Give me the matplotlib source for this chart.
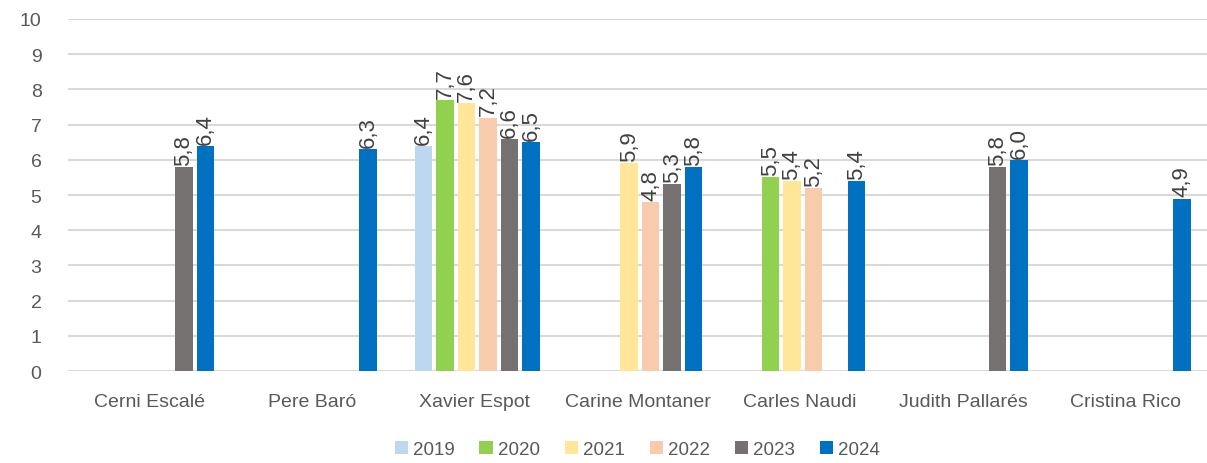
import numpy as np
import matplotlib.pyplot as plt

plt.rcParams['font.family'] = ['Liberation Sans', 'DejaVu Sans']

categories = ['Cerni Escalé', 'Pere Baró', 'Xavier Espot', 'Carine Montaner',
              'Carles Naudi', 'Judith Pallarés', 'Cristina Rico']
years = ['2019', '2020', '2021', '2022', '2023', '2024']
v2019 = [None, None, 6.4, None, None, None, None]
v2020 = [None, None, 7.7, None, 5.5, None, None]
v2021 = [None, None, 7.6, 5.9, 5.4, None, None]
v2022 = [None, None, 7.2, 4.8, 5.2, None, None]
v2023 = [5.8, None, 6.6, 5.3, None, 5.8, None]
v2024 = [6.4, 6.3, 6.5, 5.8, 5.4, 6.0, 4.9]
series = [v2019, v2020, v2021, v2022, v2023, v2024]
colors = ['#BDD7EE', '#92D050', '#FFE699', '#F8CBAD', '#767171', '#0070C0']

fig = plt.figure(figsize=(12.07, 4.64), dpi=100)
ax = fig.add_axes([0.0563, 0.198, 0.9437, 0.759])

x = np.arange(len(categories))
slot = 0.132
bw = 0.108
for i, (vals, c, yr) in enumerate(zip(series, colors, years)):
    off = (i - 2.5) * slot + 0.015
    xs = [xi + off for xi, v in zip(x, vals) if v is not None]
    hs = [v for v in vals if v is not None]
    bars = ax.bar(xs, hs, width=bw, color=c, label=yr, zorder=3)
    for b, h in zip(bars, hs):
        ax.text(b.get_x() + b.get_width() / 2, h + 0.06, f'{h:.1f}'.replace('.', ','),
                rotation=90, ha='center', va='bottom', fontsize=16, color='#404040')

ax.set_xlim(-0.5, len(categories) - 0.5)
ax.set_ylim(0, 10)
ax.set_yticks(range(0, 11))
ax.set_xticks(x)
ax.set_xticklabels(categories)
ax.tick_params(axis='both', length=0, labelsize=14, labelcolor='#595959')
ax.tick_params(axis='x', pad=16)
ax.tick_params(axis='y', pad=19)
ax.grid(axis='y', color='#D9D9D9', linewidth=1.5, zorder=0)
for s in ax.spines.values():
    s.set_visible(False)

ax.legend(loc='upper center', bbox_to_anchor=(0.5, -0.16), ncol=6, frameon=False,
          fontsize=13.5, labelcolor='#595959', handlelength=0.7, handleheight=0.7,
          handletextpad=0.3, columnspacing=1.3, borderpad=0.2)

fig.savefig('out.png', dpi=100)
